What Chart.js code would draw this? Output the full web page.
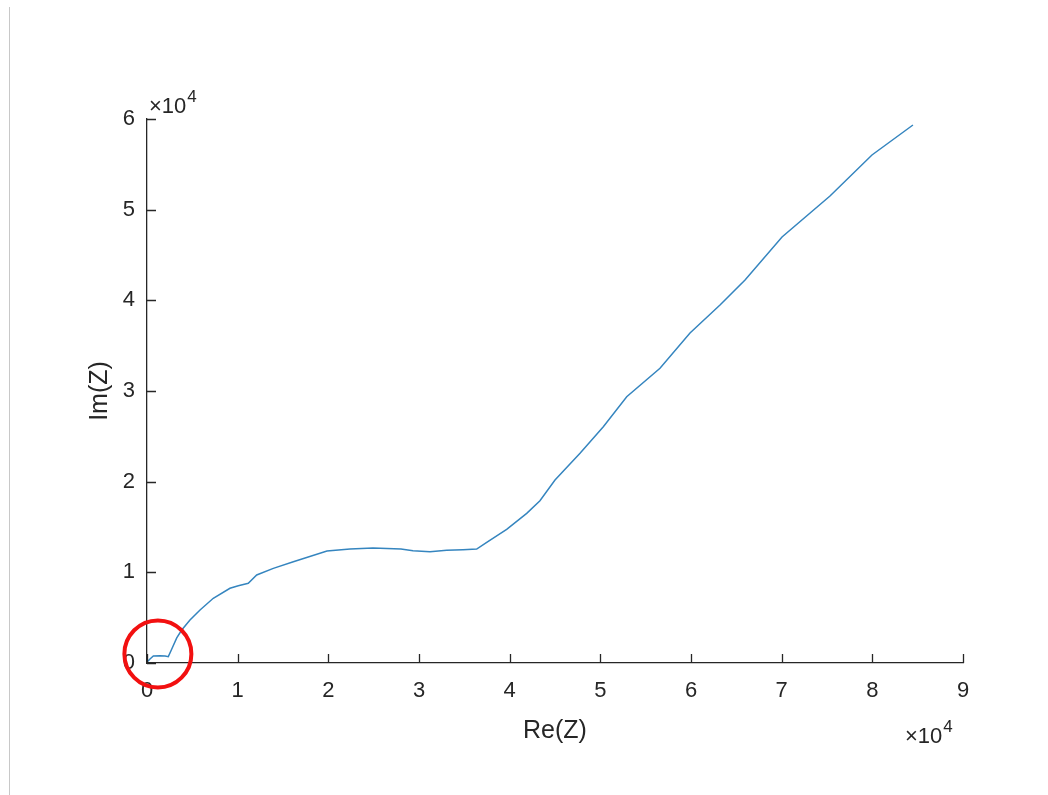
<!DOCTYPE html>
<html>
<head>
<meta charset="utf-8">
<script src="https://cdn.jsdelivr.net/npm/chart.js@4"></script>
<style>
  html, body { margin: 0; padding: 0; background: #ffffff; }
  #wrap { position: relative; width: 1048px; height: 795px; }
  #edge { position: absolute; left: 9px; top: 7px; width: 1px; height: 788px; background: #c8c8c8; }
  canvas { position: absolute; left: 0; top: 0; }
</style>
</head>
<body>
<div id="wrap">
  <canvas id="c" width="1048" height="795"></canvas>
  <div id="edge"></div>
</div>
<script>
// Nyquist plot: real vs. imaginary part of the impedance
const reZ = [100, 330, 700, 1430, 1990, 2350, 2720, 3280, 3830, 4740, 5850, 7310, 9150, 10070, 11170,
  12100, 13930, 16140, 19850, 22390, 24930, 28010, 29340, 31210, 33050, 34850, 36360, 37470, 39670,
  41880, 43340, 45000, 47760, 50330, 52910, 56580, 59890, 63200, 65960, 70040, 75330, 79960, 84480];
const imZ = [200, 440, 770, 800, 770, 700, 1510, 2760, 3640, 4740, 5850, 7140, 8240, 8530, 8790,
  9710, 10440, 11170, 12350, 12570, 12680, 12570, 12390, 12280, 12430, 12500, 12570, 13310, 14750,
  16510, 17900, 20180, 23130, 26060, 29370, 32500, 36400, 39480, 42240, 46980, 51510, 56030, 59340];

const xTicks = [0, 1, 2, 3, 4, 5, 6, 7, 8, 9];
const yTicks = [0, 1, 2, 3, 4, 5, 6];
const tickScale = 10000;
const exponentText = ['\u00d710', '4'];

// marked region near the origin (data units)
const markCenter = [1200, 1000];

const ink = '#262626';
const family = "'Liberation Sans', Arial, sans-serif";
const tickFont = { family: family, size: 22 };
const labelFont = { family: family, size: 25 };

const points = reZ.map((x, i) => ({ x: x, y: imZ[i] }));

const decorations = {
  id: 'decorations',
  afterDraw(chart) {
    const ctx = chart.ctx;
    const xs = chart.scales.x, ys = chart.scales.y;
    const area = chart.chartArea;
    ctx.save();
    // inward tick marks
    ctx.strokeStyle = ink;
    ctx.lineWidth = 1.3;
    ctx.beginPath();
    xTicks.forEach(t => {
      const px = Math.round(xs.getPixelForValue(t * tickScale)) + 0.5;
      ctx.moveTo(px, area.bottom);
      ctx.lineTo(px, area.bottom - 9);
    });
    yTicks.forEach(t => {
      const py = Math.round(ys.getPixelForValue(t * tickScale)) + 0.5;
      ctx.moveTo(area.left, py);
      ctx.lineTo(area.left + 9, py);
    });
    ctx.stroke();

    // exponent labels
    ctx.fillStyle = ink;
    ctx.textBaseline = 'alphabetic';
    ctx.textAlign = 'left';
    const drawExp = (x, y) => {
      ctx.font = tickFont.size + 'px ' + family;
      ctx.fillText(exponentText[0], x, y);
      const w = ctx.measureText(exponentText[0]).width;
      ctx.font = Math.round(tickFont.size * 0.75) + 'px ' + family;
      ctx.fillText(exponentText[1], x + w + 1, y - 11);
    };
    drawExp(area.left + 2, area.top - 6);
    drawExp(area.right - 58, area.bottom + 80);

    // red ring around the low-frequency region
    const cx = xs.getPixelForValue(markCenter[0]);
    const cy = ys.getPixelForValue(markCenter[1]);
    ctx.strokeStyle = '#f21010';
    ctx.lineWidth = 4;
    ctx.beginPath();
    ctx.arc(cx, cy, 33.5, 0, Math.PI * 2);
    ctx.stroke();
    ctx.restore();
  }
};

new Chart(document.getElementById('c'), {
  type: 'line',
  data: {
    datasets: [{
      data: points,
      borderColor: '#3585bf',
      borderWidth: 1.5,
      pointRadius: 0,
      tension: 0,
      fill: false
    }]
  },
  options: {
    responsive: false,
    animation: false,
    devicePixelRatio: 1,
    layout: { padding: { left: 0, top: 119, right: 85, bottom: 0 } },
    plugins: { legend: { display: false }, tooltip: { enabled: false } },
    scales: {
      x: {
        type: 'linear',
        min: 0,
        max: 90000,
        afterFit(s) { s.height = 795 - 663; },
        afterBuildTicks(s) { s.ticks = xTicks.map(v => ({ value: v * tickScale })); },
        grid: { display: false, drawTicks: false },
        border: { display: true, color: ink, width: 1.3 },
        ticks: {
          color: ink,
          font: tickFont,
          padding: 15,
          maxRotation: 0,
          callback: v => String(v / tickScale)
        },
        title: {
          display: true,
          text: 'Re(Z)',
          color: ink,
          font: labelFont,
          padding: { bottom: 49 }
        }
      },
      y: {
        type: 'linear',
        min: 0,
        max: 60000,
        afterFit(s) { s.width = 147; },
        afterBuildTicks(s) { s.ticks = yTicks.map(v => ({ value: v * tickScale })); },
        grid: { display: false, drawTicks: false },
        border: { display: true, color: ink, width: 1.3 },
        ticks: {
          color: ink,
          font: tickFont,
          padding: 12,
          callback: v => String(v / tickScale)
        },
        title: {
          display: true,
          text: 'Im(Z)',
          color: ink,
          font: labelFont,
          padding: { top: 85 }
        }
      }
    }
  },
  plugins: [decorations]
});
</script>
</body>
</html>
